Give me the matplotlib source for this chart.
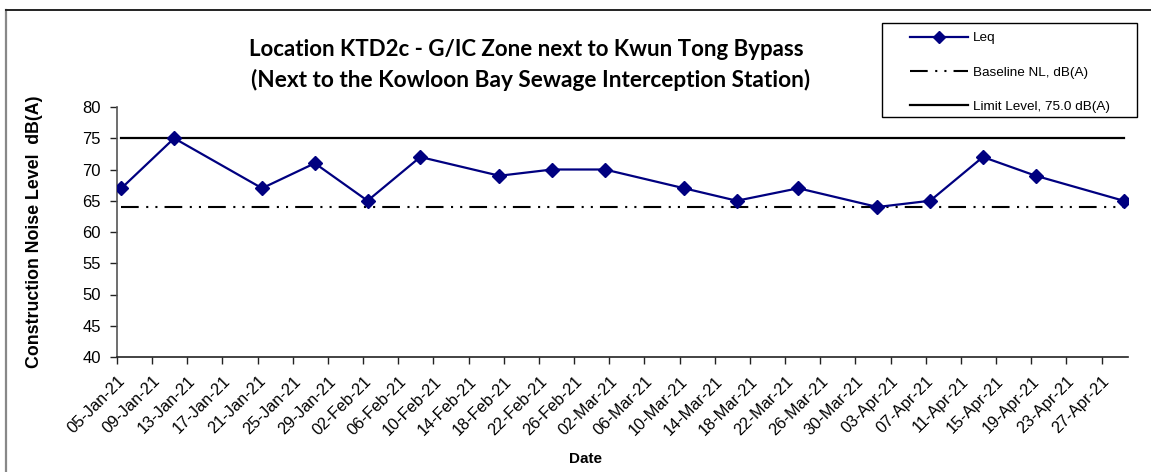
import matplotlib
matplotlib.use("Agg")
import matplotlib.pyplot as plt
from matplotlib.lines import Line2D
from matplotlib.patches import Rectangle
import pandas as pd

# ---- data ----
dates = ["2021-01-05", "2021-01-11", "2021-01-21", "2021-01-27", "2021-02-02",
         "2021-02-08", "2021-02-17", "2021-02-23", "2021-03-01", "2021-03-10",
         "2021-03-16", "2021-03-23", "2021-04-01", "2021-04-07", "2021-04-13",
         "2021-04-19", "2021-04-29"]
leq = [67, 75, 67, 71, 65, 72, 69, 70, 70, 67, 65, 67, 64, 65, 72, 69, 65]
baseline = [64] * len(dates)
limit = [75] * len(dates)
title_lines = ["Location KTD2c - G/IC Zone next to Kwun Tong Bypass",
               "(Next to the Kowloon Bay Sewage Interception Station)"]
legend_labels = ["Leq", "Baseline NL, dB(A)", "Limit Level, 75.0 dB(A)"]
x_start, x_end = "2021-01-05", "2021-04-30"
last_tick = "2021-04-27"

plt.rcParams['font.family'] = ['Liberation Sans', 'DejaVu Sans']

W, H = 1151, 472
fig = plt.figure(figsize=(W/100, H/100), dpi=100)
ax = fig.add_axes([117/W, 1-357/H, (1128-117)/W, (357-107)/H])

# points sit in the middle of each day slot (Excel date axis)
x = pd.to_datetime(dates) + pd.Timedelta(hours=12)

navy = '#000080'
dash = (0, (8.5, 3.6, 1, 3.4, 1, 3.4))
ax.plot(x, leq, color=navy, lw=1.6, marker='D', markersize=7.5,
        markerfacecolor=navy, markeredgecolor=navy, zorder=3)
ax.plot(x, baseline, color='black', lw=1.5, linestyle=dash, zorder=2)
ax.plot(x, limit, color='black', lw=1.6, zorder=2)

ax.set_xlim(pd.Timestamp(x_start), pd.Timestamp(x_end))
ax.set_ylim(40, 80)
ax.set_yticks(range(40, 81, 5))
ticks = pd.date_range(x_start, last_tick, freq="4D")
ax.set_xticks(ticks)
ax.set_xticklabels([t.strftime("%d-%b-%y") for t in ticks], rotation=45,
                   ha='right', va='top', rotation_mode='anchor', fontsize=11.8)
ax.tick_params(axis='x', direction='out', length=5, width=1, pad=7, colors='#222222')
ax.tick_params(axis='y', direction='out', length=5, width=1, pad=6.5,
               labelsize=12, colors='#222222')
for lab in ax.get_xticklabels() + ax.get_yticklabels():
    lab.set_color('black')

for s in ['top', 'right']:
    ax.spines[s].set_visible(False)
ax.spines['left'].set_color('#555555')
ax.spines['bottom'].set_color('#222222')
ax.spines['left'].set_linewidth(1.2)
ax.spines['bottom'].set_linewidth(1.2)

ax.set_ylabel("Construction Noise Level  dB(A)", fontsize=12.8, fontweight='bold')
ax.yaxis.set_label_coords((43-117)/1011, 0.5)
ax.set_xlabel("Date", fontsize=11, fontweight='bold')
ax.xaxis.set_label_coords((586-117)/1011, (357-452)/250)

# title
fig.text(526/W, 1-50/H, title_lines[0], ha='center', va='center',
         fontsize=16, fontweight='bold', family=['Lato', 'DejaVu Sans'])
fig.text(531/W, 1-80/H, title_lines[1], ha='center', va='center',
         fontsize=16.3, fontweight='bold', family=['Lato', 'DejaVu Sans'])

# legend
handles = [
    Line2D([], [], color=navy, lw=1.6, marker='D', markersize=6),
    Line2D([], [], color='black', lw=1.5, linestyle=dash),
    Line2D([], [], color='black', lw=1.6),
]
leg = fig.legend(handles, legend_labels, loc='upper left',
                 bbox_to_anchor=(910/W, 1-32/H), fontsize=9.7,
                 handlelength=4.3, handletextpad=0.37, labelspacing=1.62,
                 borderpad=0.0, borderaxespad=0, frameon=False)
fig.add_artist(Rectangle((882/W, 1-117/H), (1137-882)/W, (117-23)/H,
                         transform=fig.transFigure, fill=False,
                         edgecolor='black', lw=1.0))

# chart-area frame (top and left edges visible)
fig.add_artist(Line2D([5.5/W, 5.5/W], [0, 1-9.5/H], transform=fig.transFigure,
                      color='#888888', lw=1.6))
fig.add_artist(Line2D([5.5/W, 1], [1-9.5/H, 1-9.5/H], transform=fig.transFigure,
                      color='#222222', lw=1.4))

fig.savefig("out.png", dpi=100)
